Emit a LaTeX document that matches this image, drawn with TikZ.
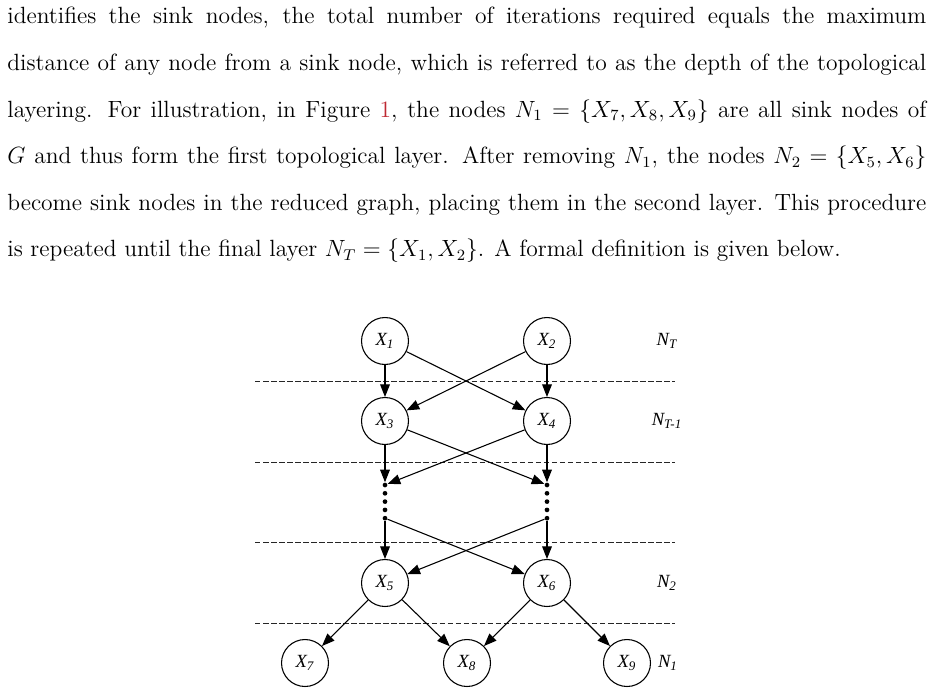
\documentclass[tikz,border=0pt]{standalone}
\usepackage{fontspec}
\newfontfamily\figfont{Liberation Serif}
\usepackage{tikz}
\usetikzlibrary{arrows.meta,positioning}
\definecolor{refc}{RGB}{190,40,50}
\newcommand{\vx}[1]{X\textsubscript{#1}}
\newcommand{\lay}[1]{N\textsubscript{#1}}
\tikzset{
  var/.style={draw,circle,minimum size=24pt,inner sep=0pt,line width=0.55pt,font=\figfont\fontsize{9.5}{10}\selectfont\itshape},
  lyr/.style={font=\figfont\fontsize{9.5}{10}\selectfont\itshape},
  edge/.style={-{Triangle[length=6.5pt,width=5pt]},line width=0.55pt},
  sep/.style={dash pattern=on 2.8pt off 1.3pt,line width=0.5pt,black!85},
  pt/.style={circle,fill,inner sep=0pt,minimum size=2.4pt},
}

\begin{document}
\begin{tikzpicture}[x=0.511pt,y=-0.511pt]
  \useasboundingbox (0,0) rectangle (934,694);
  % paragraph above the figure
  \node[anchor=base west,inner sep=0pt,text width=469.6pt,align=justify,font=\fontsize{12}{23.8}\selectfont] (txt) at (7,24)
    {identifies the sink nodes, the total number of iterations required equals the maximum\linebreak
     distance of any node from a sink node, which is referred to as the depth of the topological\linebreak
     layering. For illustration, in Figure \textcolor{refc}{1}, the nodes $N_1 = \{X_7, X_8, X_9\}$ are all sink nodes of\linebreak
     $G$ and thus form the first topological layer. After removing $N_1$, the nodes $N_2 = \{X_5, X_6\}$\linebreak
     become sink nodes in the reduced graph, placing them in the second layer. This procedure\linebreak
     is repeated until the final layer $N_T = \{X_1, X_2\}$. A formal definition is given below.};
  % layer separators
  \foreach \yy in {381,462,542,623}
    \draw[sep] (255,\yy) -- (675,\yy);
  % variables
  \node[var] (x1) at (385,341) {\vx{1}};
  \node[var] (x2) at (547,341) {\vx{2}};
  \node[var] (x3) at (385,421) {\vx{3}};
  \node[var] (x4) at (547,421) {\vx{4}};
  \node[var] (x5) at (385,583) {\vx{5}};
  \node[var] (x6) at (547,583) {\vx{6}};
  \node[var] (x7) at (305,663) {\vx{7}};
  \node[var] (x8) at (467,663) {\vx{8}};
  \node[var] (x9) at (627,663) {\vx{9}};
  % layer names
  \node[lyr] (nT) at (667,341) {\lay{T}};
  \node[lyr] (nT1) at (667,421) {\lay{T-1}};
  \node[lyr] (n2) at (667,583) {\lay{2}};
  \node[lyr] (n1) at (668,663) {\lay{1}};
  % vertical dots for the omitted layers
  \foreach \i [evaluate=\i as \yy using 485+(\i-1)*8.3] in {1,...,5} {
    \node[pt] (l\i) at (385,\yy) {};
    \node[pt] (r\i) at (547,\yy) {};
  }
  % edges
  \draw[edge] (x1) -- (x3); \draw[edge] (x1) -- (x4);
  \draw[edge] (x2) -- (x3); \draw[edge] (x2) -- (x4);
  \draw[edge] (x3) -- (l1); \draw[edge] (x3) -- (r1);
  \draw[edge] (x4) -- (l1); \draw[edge] (x4) -- (r1);
  \draw[edge] (l5) -- (x5); \draw[edge] (l5) -- (x6);
  \draw[edge] (r5) -- (x5); \draw[edge] (r5) -- (x6);
  \draw[edge] (x5) -- (x7); \draw[edge] (x5) -- (x8);
  \draw[edge] (x6) -- (x8); \draw[edge] (x6) -- (x9);
\end{tikzpicture}
\end{document}
